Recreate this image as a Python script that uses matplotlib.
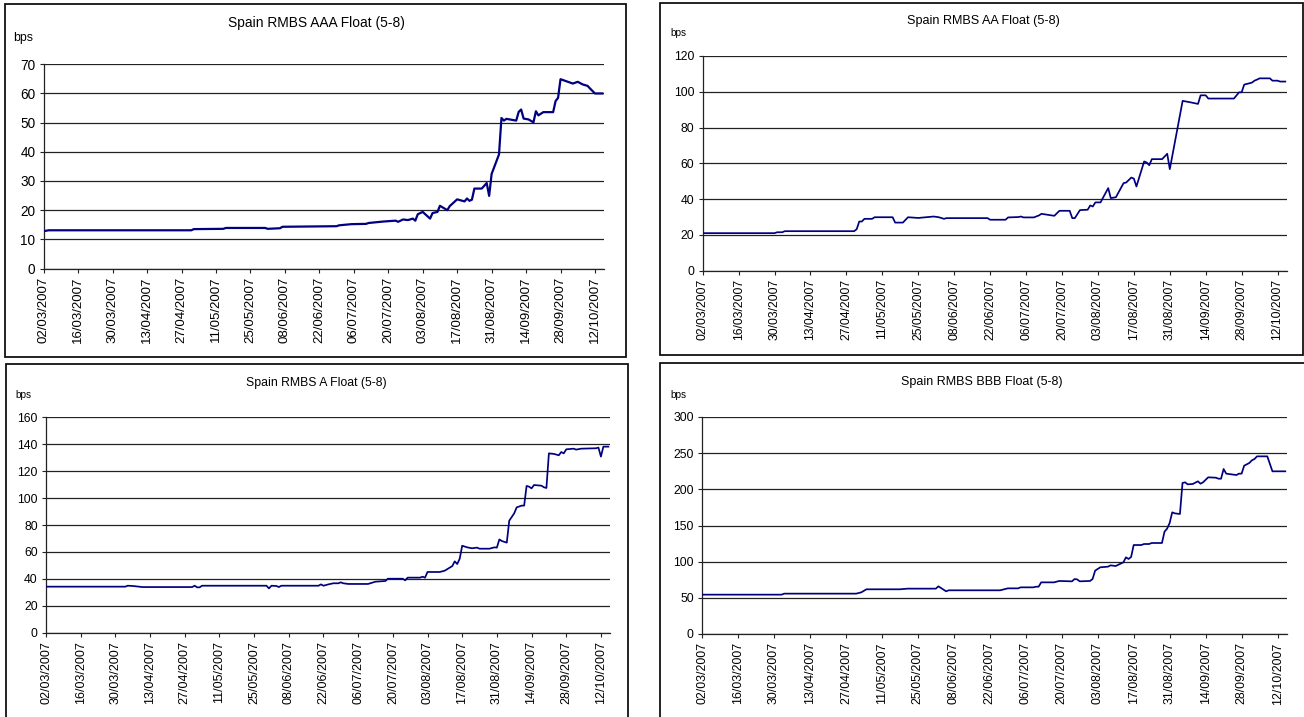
import matplotlib
matplotlib.use('Agg')
import matplotlib.pyplot as plt
from matplotlib.patches import Rectangle
import pandas as pd

# ---------------- data ----------------
tick_labels = ['02/03/2007', '16/03/2007', '30/03/2007', '13/04/2007', '27/04/2007',
               '11/05/2007', '25/05/2007', '08/06/2007', '22/06/2007', '06/07/2007',
               '20/07/2007', '03/08/2007', '17/08/2007', '31/08/2007', '14/09/2007',
               '28/09/2007', '12/10/2007']

aaa_dates = ['2007-03-02', '2007-03-04', '2007-05-01', '2007-05-02', '2007-05-14', '2007-05-15',
             '2007-05-31', '2007-06-01', '2007-06-06', '2007-06-07', '2007-06-29', '2007-06-30',
             '2007-07-05', '2007-07-11', '2007-07-12', '2007-07-18', '2007-07-23', '2007-07-24',
             '2007-07-26', '2007-07-28', '2007-07-30', '2007-07-31', '2007-08-01', '2007-08-03',
             '2007-08-06', '2007-08-07', '2007-08-09', '2007-08-10', '2007-08-13', '2007-08-14',
             '2007-08-17', '2007-08-20', '2007-08-21', '2007-08-22', '2007-08-23', '2007-08-24',
             '2007-08-27', '2007-08-29', '2007-08-30', '2007-08-31', '2007-09-03', '2007-09-04',
             '2007-09-05', '2007-09-06', '2007-09-10', '2007-09-11', '2007-09-12', '2007-09-13',
             '2007-09-15', '2007-09-17', '2007-09-18', '2007-09-19', '2007-09-21', '2007-09-25',
             '2007-09-26', '2007-09-27', '2007-09-28', '2007-10-02', '2007-10-03', '2007-10-05',
             '2007-10-07', '2007-10-09', '2007-10-10', '2007-10-12', '2007-10-15']
aaa_values = [12.8, 13.1, 13.1, 13.5, 13.6, 13.9,
              13.9, 13.6, 13.8, 14.3, 14.5, 14.8,
              15.2, 15.3, 15.6, 16.1, 16.4, 16.0,
              16.8, 16.6, 17.1, 16.4, 18.6, 19.4,
              17.1, 19.0, 19.4, 21.5, 20.0, 21.4,
              23.7, 23.0, 24.0, 23.2, 23.6, 27.4,
              27.4, 29.3, 24.9, 32.4, 39.1, 51.6,
              50.7, 51.3, 50.7, 53.7, 54.5, 51.4,
              51.1, 50.1, 53.9, 52.5, 53.6, 53.6,
              57.4, 58.5, 64.9, 63.7, 63.4, 64.0,
              63.1, 62.6, 61.7, 60.0, 60.0]

aa_dates = ['2007-03-02', '2007-03-30', '2007-03-31', '2007-04-02', '2007-04-03', '2007-04-30',
            '2007-05-01', '2007-05-02', '2007-05-03', '2007-05-04', '2007-05-07', '2007-05-08',
            '2007-05-15', '2007-05-16', '2007-05-19', '2007-05-21', '2007-05-25', '2007-05-28',
            '2007-05-31', '2007-06-02', '2007-06-04', '2007-06-05', '2007-06-21', '2007-06-22',
            '2007-06-28', '2007-06-29', '2007-07-03', '2007-07-04', '2007-07-05', '2007-07-09',
            '2007-07-11', '2007-07-12', '2007-07-17', '2007-07-19', '2007-07-23', '2007-07-24',
            '2007-07-25', '2007-07-27', '2007-07-30', '2007-07-31', '2007-08-01', '2007-08-02',
            '2007-08-04', '2007-08-07', '2007-08-08', '2007-08-10', '2007-08-13', '2007-08-14',
            '2007-08-16', '2007-08-17', '2007-08-18', '2007-08-21', '2007-08-22', '2007-08-23',
            '2007-08-24', '2007-08-28', '2007-08-30', '2007-08-31', '2007-09-03', '2007-09-05',
            '2007-09-08', '2007-09-11', '2007-09-12', '2007-09-14', '2007-09-15', '2007-09-25',
            '2007-09-27', '2007-09-28', '2007-09-29', '2007-10-02', '2007-10-03', '2007-10-04',
            '2007-10-05', '2007-10-09', '2007-10-10', '2007-10-12', '2007-10-13', '2007-10-15']
aa_values = [20.9, 20.9, 21.4, 21.4, 22.0, 22.0,
             23.1, 27.4, 27.4, 28.9, 28.9, 29.8,
             29.8, 26.8, 26.8, 29.8, 29.4, 29.8,
             30.2, 29.8, 28.9, 29.3, 29.3, 28.4,
             28.4, 29.7, 29.9, 30.2, 29.7, 29.7,
             30.8, 31.7, 30.6, 33.4, 33.4, 29.3,
             29.3, 33.8, 34.0, 36.4, 35.8, 38.1,
             38.1, 46.1, 40.5, 41.0, 48.9, 49.2,
             52.0, 51.4, 47.0, 61.0, 60.4, 58.9,
             62.3, 62.3, 65.3, 56.7, 79.6, 94.9,
             94.1, 93.2, 98.0, 98.0, 96.2, 96.2,
             99.7, 99.7, 104.0, 105.1, 106.2, 106.8,
             107.5, 107.5, 106.2, 106.2, 105.7, 105.7]

a_dates = ['2007-03-02', '2007-04-03', '2007-04-04', '2007-04-06', '2007-04-10', '2007-04-30',
           '2007-05-01', '2007-05-02', '2007-05-03', '2007-05-04', '2007-05-30', '2007-05-31',
           '2007-06-01', '2007-06-03', '2007-06-04', '2007-06-05', '2007-06-20', '2007-06-21',
           '2007-06-22', '2007-06-24', '2007-06-26', '2007-06-28', '2007-06-29', '2007-06-30',
           '2007-07-02', '2007-07-10', '2007-07-13', '2007-07-17', '2007-07-18', '2007-07-24',
           '2007-07-25', '2007-07-26', '2007-07-31', '2007-08-01', '2007-08-02', '2007-08-03',
           '2007-08-08', '2007-08-10', '2007-08-13', '2007-08-14', '2007-08-15', '2007-08-16',
           '2007-08-17', '2007-08-19', '2007-08-21', '2007-08-23', '2007-08-24', '2007-08-28',
           '2007-08-30', '2007-08-31', '2007-09-01', '2007-09-02', '2007-09-04', '2007-09-05',
           '2007-09-07', '2007-09-08', '2007-09-10', '2007-09-11', '2007-09-12', '2007-09-13',
           '2007-09-14', '2007-09-15', '2007-09-18', '2007-09-19', '2007-09-20', '2007-09-21',
           '2007-09-23', '2007-09-25', '2007-09-26', '2007-09-27', '2007-09-28', '2007-10-01',
           '2007-10-02', '2007-10-04', '2007-10-10', '2007-10-11', '2007-10-12', '2007-10-13',
           '2007-10-15']
a_values = [34.2, 34.2, 34.9, 34.7, 33.9, 33.9,
            34.9, 33.7, 33.7, 34.9, 34.9, 32.9,
            34.9, 34.7, 33.9, 34.9, 34.9, 35.9,
            34.9, 35.9, 36.7, 36.7, 37.4, 36.7,
            36.2, 36.2, 37.9, 38.4, 40.1, 40.1,
            38.9, 40.9, 40.9, 41.6, 40.9, 45.1,
            45.1, 46.1, 49.5, 53.0, 51.0, 55.0,
            64.6, 63.4, 62.7, 63.2, 62.4, 62.4,
            63.4, 63.2, 69.3, 68.1, 66.9, 83.2,
            88.7, 93.1, 94.4, 94.4, 109.0, 108.5,
            107.2, 109.7, 109.2, 108.0, 107.5, 133.2,
            132.8, 131.8, 134.2, 133.2, 136.2, 136.7,
            136.0, 136.7, 137.0, 137.5, 130.8, 138.2,
            138.2]

bbb_dates = ['2007-03-02', '2007-04-02', '2007-04-03', '2007-05-01', '2007-05-03', '2007-05-05',
             '2007-05-18', '2007-05-21', '2007-06-01', '2007-06-02', '2007-06-03', '2007-06-05',
             '2007-06-06', '2007-06-26', '2007-06-28', '2007-06-29', '2007-07-03', '2007-07-04',
             '2007-07-09', '2007-07-10', '2007-07-11', '2007-07-12', '2007-07-17', '2007-07-19',
             '2007-07-24', '2007-07-25', '2007-07-26', '2007-07-27', '2007-07-31', '2007-08-01',
             '2007-08-02', '2007-08-04', '2007-08-07', '2007-08-08', '2007-08-10', '2007-08-13',
             '2007-08-14', '2007-08-15', '2007-08-16', '2007-08-17', '2007-08-20', '2007-08-21',
             '2007-08-23', '2007-08-24', '2007-08-28', '2007-08-29', '2007-08-30', '2007-08-31',
             '2007-09-01', '2007-09-02', '2007-09-04', '2007-09-05', '2007-09-06', '2007-09-07',
             '2007-09-09', '2007-09-11', '2007-09-12', '2007-09-13', '2007-09-15', '2007-09-18',
             '2007-09-19', '2007-09-20', '2007-09-21', '2007-09-22', '2007-09-24', '2007-09-26',
             '2007-09-27', '2007-09-28', '2007-09-29', '2007-10-01', '2007-10-02', '2007-10-03',
             '2007-10-04', '2007-10-08', '2007-10-10', '2007-10-15']
bbb_values = [54.4, 54.4, 55.8, 55.8, 57.6, 61.8,
              61.8, 62.7, 62.7, 65.9, 63.6, 59.0,
              60.4, 60.4, 62.2, 63.1, 63.1, 64.5,
              64.5, 65.4, 65.4, 71.4, 71.4, 73.3,
              72.8, 76.0, 75.5, 72.8, 73.3, 76.0,
              87.6, 92.2, 93.1, 94.9, 94.0, 99.1,
              106.0, 103.7, 106.5, 123.0, 123.0, 124.4,
              124.4, 125.8, 125.8, 141.5, 145.6, 153.5,
              168.2, 166.8, 165.9, 208.8, 209.7, 206.9,
              207.4, 211.1, 207.8, 209.7, 216.6, 216.1,
              214.7, 214.7, 228.1, 221.7, 220.7, 219.8,
              221.7, 221.7, 232.7, 236.4, 240.1, 241.9,
              245.6, 245.6, 224.9, 224.9]

titles = ['Spain RMBS AAA Float (5-8)', 'Spain RMBS AA Float (5-8)',
          'Spain RMBS A Float (5-8)', 'Spain RMBS BBB Float (5-8)']
y_max = [70, 120, 160, 300]
y_step = [10, 20, 20, 50]

# ---------------- layout ----------------
W, H = 1304, 717
plt.rcParams['font.family'] = ['Liberation Sans', 'DejaVu Sans']
fig = plt.figure(figsize=(W / 100, H / 100), dpi=100)
fig.patch.set_facecolor('white')

series = [(aaa_dates, aaa_values), (aa_dates, aa_values),
          (a_dates, a_values), (bbb_dates, bbb_values)]

layout = [
    dict(box=(5, 4, 626, 357), ax=(43.7, 64.3, 604, 268.5), tc=(316, 23), tfs=9.9,
         bps=(13, 38), bfs=8.9, xfs=9.5, yfs=9.8, lw=1.6),
    dict(box=(660, 3, 1303, 355), ax=(702.7, 56, 1287, 270.5), tc=(983, 21), tfs=9.1,
         bps=(670, 33), bfs=7.2, xfs=8.8, yfs=8.8, lw=1.25),
    dict(box=(6, 364, 628, 720), ax=(46, 417.3, 610, 632.7), tc=(316, 383), tfs=8.8,
         bps=(15, 395), bfs=7.2, xfs=9.0, yfs=8.8, lw=1.25),
    dict(box=(660, 363, 1305, 720), ax=(702, 417, 1287, 634), tc=(982, 382), tfs=9.0,
         bps=(670, 395), bfs=7.2, xfs=8.9, yfs=8.8, lw=1.25),
]

x_start = pd.Timestamp('2007-03-02')
x_end = pd.Timestamp('2007-10-15') + pd.Timedelta(hours=16)
tick_pos = pd.to_datetime(tick_labels, dayfirst=True)

for (dates, vals), title, ymax, ystep, L in zip(series, titles, y_max, y_step, layout):
    bx0, by0, bx1, by1 = L['box']
    fig.add_artist(Rectangle((bx0 / W, 1 - by1 / H), (bx1 - bx0) / W, (by1 - by0) / H,
                             transform=fig.transFigure, fill=False,
                             edgecolor='#111111', linewidth=1.3))
    ax0, ayt, ax1, ayb = L['ax']
    ax = fig.add_axes([ax0 / W, 1 - ayb / H, (ax1 - ax0) / W, (ayb - ayt) / H])
    ax.set_facecolor('none')
    ax.plot(pd.to_datetime(dates), vals, color='#000080', lw=L['lw'], zorder=3)
    ax.set_xlim(x_start, x_end)
    ax.set_ylim(0, ymax)
    ax.set_yticks(list(range(0, ymax + 1, ystep)))
    ax.set_xticks(tick_pos)
    ax.set_xticklabels(tick_labels, rotation=90, fontsize=L['xfs'])
    for lab in ax.get_yticklabels():
        lab.set_fontsize(L['yfs'])
    ax.grid(axis='y', color='#222222', lw=0.9, zorder=1)
    ax.grid(axis='x', visible=False)
    for s in ('top', 'right'):
        ax.spines[s].set_visible(False)
    for s in ('left', 'bottom'):
        ax.spines[s].set_color('#222222')
        ax.spines[s].set_linewidth(0.9)
    ax.tick_params(axis='both', direction='out', length=3, width=0.8,
                   color='#222222', pad=3)
    fig.text(L['tc'][0] / W, 1 - L['tc'][1] / H, title, ha='center', va='center',
             fontsize=L['tfs'], color='black')
    fig.text(L['bps'][0] / W, 1 - L['bps'][1] / H, 'bps', ha='left', va='center',
             fontsize=L['bfs'], color='black')

fig.savefig('out.png', dpi=100, facecolor='white')
